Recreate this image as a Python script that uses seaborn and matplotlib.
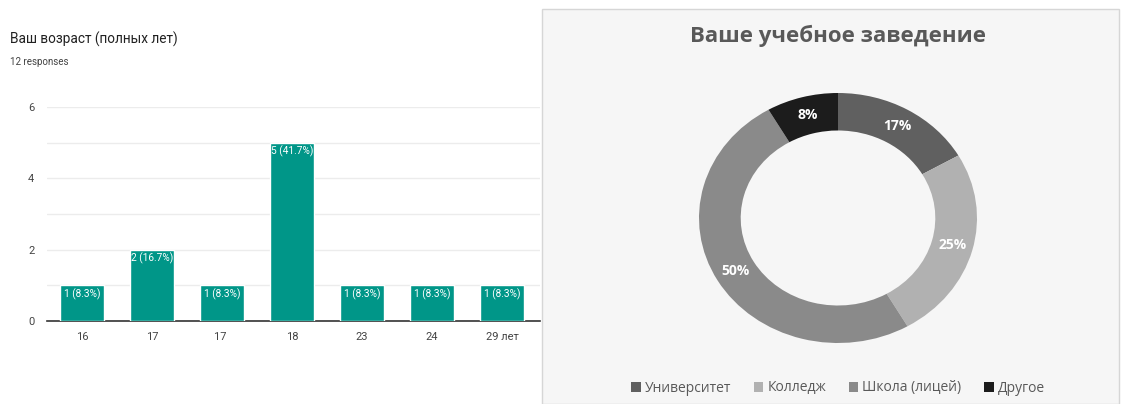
import matplotlib
matplotlib.use("Agg")
import matplotlib.pyplot as plt
from matplotlib.patches import Rectangle
import seaborn as sns
import pandas as pd

# Age question
age_labels = ["16", "17", "17 ", "18", "23", "24", "29 лет"]
age_counts = [1, 2, 1, 5, 1, 1, 1]
age_total = 12

# Institution question
inst_labels = ["Университет", "Колледж", "Школа (лицей)", "Другое"]
inst_counts = [2, 3, 6, 1]
inst_colors = ["#606060", "#b1b1b1", "#8a8a8a", "#1c1c1c"]

sns.set_theme(style="white")
NARROW = ["Roboto", "DejaVu Sans"]
SANS = ["Open Sans", "DejaVu Sans"]
plt.rcParams["font.family"] = NARROW

W, H = 1125, 404
fig = plt.figure(figsize=(W / 100, H / 100), dpi=100)
fig.patch.set_facecolor("white")


def box(x0, y_top, x1, y_bot):
    return [x0 / W, 1 - y_bot / H, (x1 - x0) / W, (y_bot - y_top) / H]


# ---------- left: bar chart ----------
fig.text(10 / W, 1 - 44 / H, "Ваш возраст (полных лет)", fontsize=9.8,
         color="#212121", family=NARROW)
fig.text(10 / W, 1 - 65 / H, "12 responses", fontsize=7, color="#424242",
         family=NARROW)

ax = fig.add_axes(box(47, 107, 540, 321))
df = pd.DataFrame({"age": age_labels, "count": age_counts})
sns.barplot(data=df, x="age", y="count", order=age_labels, color="#009688",
            saturation=1, width=0.63, ax=ax, zorder=3)
ax.set_ylim(0, 6)
ax.set_xlim(-0.5, 6.54)
ax.set_yticks([0, 2, 4, 6])
ax.set_yticks([1, 3, 5], minor=True)
ax.grid(axis="y", which="both", color="#ececec", linewidth=1, zorder=0)
ax.set_xlabel("")
ax.set_ylabel("")
for s in ["top", "right", "left"]:
    ax.spines[s].set_visible(False)
ax.spines["bottom"].set_color("#333333")
ax.spines["bottom"].set_linewidth(1.2)
ax.tick_params(axis="both", which="both", length=0, labelsize=8,
               colors="#444444")
ax.tick_params(axis="x", pad=8)
ax.tick_params(axis="y", pad=9)
for bar, c in zip(ax.patches, age_counts):
    pct = c / age_total * 100
    ax.text(bar.get_x() + bar.get_width() / 2, c - 0.08, f"{c} ({pct:.1f}%)",
            ha="center", va="top", color="white", fontsize=7.3, zorder=4,
            family=NARROW)

# ---------- right: donut chart ----------
fig.patches.append(Rectangle((542 / W, 0), (1119 - 542) / W, 1 - 9 / H,
                             transform=fig.transFigure, facecolor="#f6f6f6",
                             edgecolor="#d6d6d6", linewidth=1, zorder=-5))
fig.text(838 / W, 1 - 36 / H, "Ваше учебное заведение", ha="center",
         va="center", fontsize=16, fontweight="bold", color="#595959",
         family=SANS)

ax2 = fig.add_axes(box(699, 93, 977, 343))
ax2.set_facecolor("none")
ax2.set_zorder(2)
wedges, _, autotexts = ax2.pie(
    inst_counts, colors=inst_colors, startangle=90, counterclock=False,
    autopct=lambda p: f"{p:.0f}%", pctdistance=0.85,
    wedgeprops=dict(width=0.3, edgecolor="none"),
    textprops=dict(color="white", fontsize=10, fontweight="bold",
                   family=SANS))
ax2.set_aspect("auto")
ax2.set_xlim(-1, 1)
ax2.set_ylim(-1, 1)

leg = fig.legend(wedges, inst_labels, loc="center", ncol=4,
                 bbox_to_anchor=(838 / W, 1 - 388 / H), frameon=False,
                 handlelength=0.7, handleheight=0.7, handletextpad=0.3,
                 columnspacing=1.6, prop=dict(family=SANS, size=10))
for t in leg.get_texts():
    t.set_color("#595959")

fig.savefig("out.png", dpi=100)
